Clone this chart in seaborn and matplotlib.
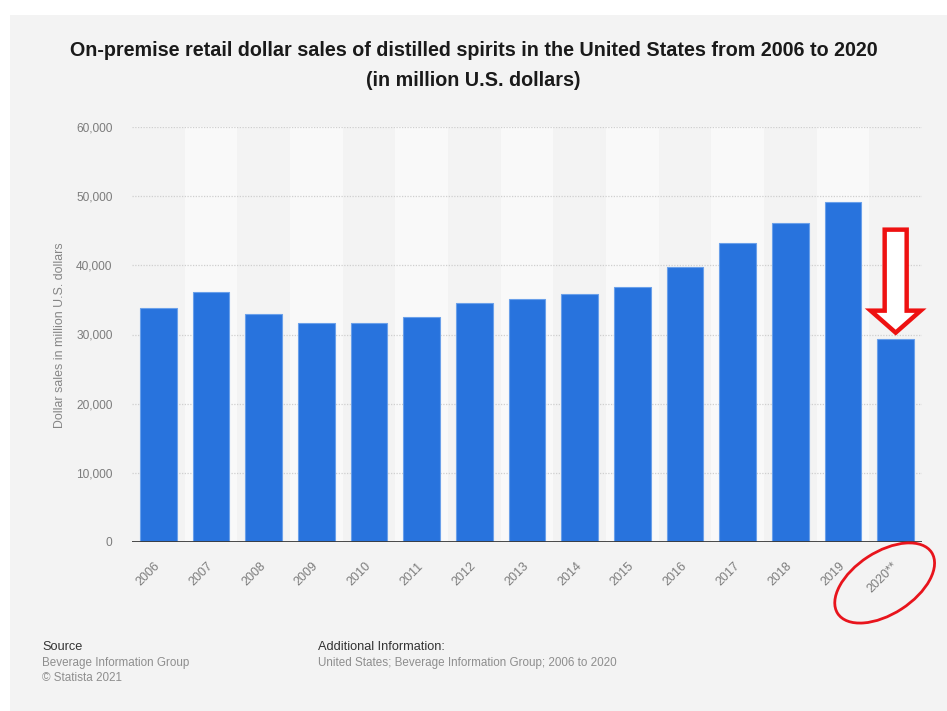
import matplotlib
matplotlib.use("Agg")
import matplotlib.pyplot as plt
from matplotlib.patches import Polygon, Ellipse, Rectangle
from matplotlib.transforms import IdentityTransform
from matplotlib.ticker import FuncFormatter
import seaborn as sns
import pandas as pd

# Data (million U.S. dollars)
years = ["2006", "2007", "2008", "2009", "2010", "2011", "2012", "2013",
         "2014", "2015", "2016", "2017", "2018", "2019", "2020**"]
sales = [33800, 36200, 32900, 31600, 31600, 32500, 34500, 35200,
         35800, 36900, 39800, 43200, 46100, 49200, 29400]
y_ticks = [0, 10000, 20000, 30000, 40000, 50000, 60000]

title_lines = ["On-premise retail dollar sales of distilled spirits in the United States from 2006 to 2020",
               "(in million U.S. dollars)"]
y_label = "Dollar sales in million U.S. dollars"

BG = "#f3f3f3"
STRIPE = "#f9f9f9"
BAR = "#2873dd"
TICK = "#7c7c7c"

sns.set_theme(style="white")
plt.rcParams["font.family"] = ["Liberation Sans", "DejaVu Sans"]

W, H, DPI = 947, 711, 100
fig = plt.figure(figsize=(W / DPI, H / DPI), dpi=DPI, facecolor="white")

def fx(px):
    return px / W

def fy(py):
    return 1 - py / H

# grey card behind the chart
fig.add_artist(Rectangle((fx(10), 0), 1 - fx(10), fy(15), transform=fig.transFigure,
                         facecolor=BG, edgecolor="none", zorder=-10))

ax = fig.add_axes([fx(132), fy(542), fx(922) - fx(132), fy(127) - fy(542)])
ax.set_facecolor(BG)
ax.patch.set_alpha(0)

df = pd.DataFrame({"year": years, "sales": sales})

# alternating column shading
for i in range(len(years)):
    if i % 2 == 1:
        ax.axvspan(i - 0.5, i + 0.5, color=STRIPE, zorder=0, lw=0)

sns.barplot(data=df, x="year", y="sales", color=BAR, saturation=1, width=0.69,
            edgecolor="#6aa0ea", linewidth=0.8, ax=ax, zorder=3)

ax.set_xlim(-0.5, len(years) - 0.5)
ax.set_ylim(0, 60000)
ax.set_yticks(y_ticks)
ax.yaxis.set_major_formatter(FuncFormatter(lambda v, p: f"{int(v):,}"))
for t in y_ticks[1:]:
    ax.axhline(t, color="#cfcfcf", lw=0.9, ls=(0, (1, 1.2)), zorder=1)
ax.axhline(0, color="#3a3a3a", lw=1.3, zorder=4)

for s in ax.spines.values():
    s.set_visible(False)
ax.grid(False)
ax.set_xlabel("")
ax.set_ylabel("")
ax.tick_params(axis="y", length=0, pad=14, labelsize=8.6, labelcolor=TICK)
ax.tick_params(axis="x", length=0, pad=16, labelsize=9, labelcolor=TICK)
for lab in ax.get_xticklabels():
    lab.set_rotation(45)
    lab.set_ha("right")
    lab.set_va("center")
    lab.set_rotation_mode("anchor")

fig.text(fx(60), fy(335), y_label, rotation=90, ha="center", va="center",
         fontsize=8.9, color="#858585")

# title
fig.text(0.5, fy(51), title_lines[0], ha="center", va="center", fontsize=14.2,
         fontweight="bold", color="#1a1a1a")
fig.text(0.5, fy(81), title_lines[1], ha="center", va="center", fontsize=14.2,
         fontweight="bold", color="#1a1a1a")

# footer
fig.text(fx(42), fy(647), "Source", ha="left", va="center", fontsize=9.2, color="#333333")
fig.text(fx(42), fy(663), "Beverage Information Group", ha="left", va="center",
         fontsize=8.4, color="#8e8e8e")
fig.text(fx(42), fy(678), "\u00a9 Statista 2021", ha="left", va="center",
         fontsize=8.4, color="#8e8e8e")
fig.text(fx(318), fy(647), "Additional Information:", ha="left", va="center",
         fontsize=9.2, color="#333333")
fig.text(fx(318), fy(663), "United States; Beverage Information Group; 2006 to 2020",
         ha="left", va="center", fontsize=8.4, color="#8e8e8e")

# highlight: hollow arrow pointing at the last bar, ellipse around its label
bx, by = ax.transData.transform((len(years) - 1, sales[-1]))
_, ay = ax.transData.transform((len(years) - 1, 0))
arrow = [(bx - 11, by + 109), (bx + 11, by + 109), (bx + 11, by + 28),
         (bx + 25, by + 28), (bx, by + 6), (bx - 25, by + 28), (bx - 11, by + 28)]
fig.add_artist(Polygon(arrow, closed=True, transform=IdentityTransform(),
                       facecolor="white", edgecolor="#ee1111", lw=3.2,
                       joinstyle="miter", zorder=10))
fig.add_artist(Ellipse((bx - 11, ay - 41), 112, 62, angle=33,
                       transform=IdentityTransform(), facecolor="none",
                       edgecolor="#e8141c", lw=2.0, zorder=10))

fig.savefig("out.png", dpi=DPI, facecolor="white")
